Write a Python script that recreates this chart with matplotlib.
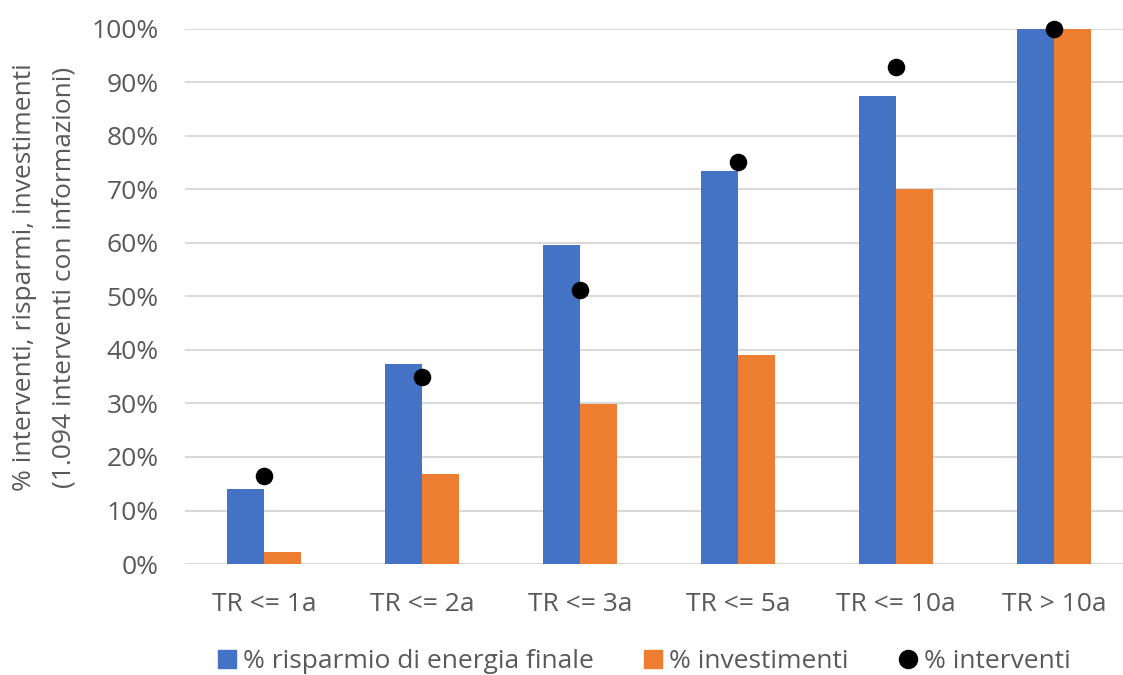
import matplotlib
matplotlib.use('Agg')
import matplotlib.pyplot as plt
from matplotlib.lines import Line2D
from matplotlib.ticker import PercentFormatter
import numpy as np

categories = ['TR <= 1a', 'TR <= 2a', 'TR <= 3a', 'TR <= 5a', 'TR <= 10a', 'TR > 10a']
risparmio = [14.0, 37.4, 59.6, 73.5, 87.5, 100.0]
investimenti = [2.2, 16.8, 29.9, 39.1, 70.1, 100.0]
interventi = [16.4, 35.0, 51.2, 75.1, 92.9, 100.0]

BLUE = '#4472C4'
ORANGE = '#ED7D31'
GREY = '#595959'

plt.rcParams['font.family'] = ['Open Sans', 'DejaVu Sans']

fig = plt.figure(figsize=(11.23, 6.75), dpi=100)
ax = fig.add_axes([185 / 1123, 111 / 675, 948 / 1123, 535 / 675])

x = np.arange(len(categories))
w = 0.237
ax.bar(x - w / 2, risparmio, w, color=BLUE, zorder=2)
ax.bar(x + w / 2, investimenti, w, color=ORANGE, zorder=2)
ax.scatter(x, interventi, s=135, color='black', zorder=3, clip_on=False)

ax.set_xlim(-0.5, len(categories) - 0.5)
ax.set_ylim(0, 100)
ax.set_yticks(np.arange(0, 101, 10))
ax.yaxis.set_major_formatter(PercentFormatter(decimals=0))
ax.set_xticks(x)
ax.set_xticklabels(categories)
ax.grid(axis='y', color='#D9D9D9', linewidth=1.5, zorder=0)
for s in ax.spines.values():
    s.set_visible(False)
ax.tick_params(length=0, colors=GREY, labelsize=19)
ax.tick_params(axis='y', pad=19)
ax.tick_params(axis='x', pad=20)

fig.text(25 / 1123, 398 / 675, '% interventi, risparmi, investimenti',
         rotation=90, ha='center', va='center', color=GREY, fontsize=19)
fig.text(64 / 1123, 398 / 675, '(1.094 interventi con informazioni)',
         rotation=90, ha='center', va='center', color=GREY, fontsize=19)

handles = [
    Line2D([], [], marker='s', linestyle='none', color=BLUE, markersize=13),
    Line2D([], [], marker='s', linestyle='none', color=ORANGE, markersize=13),
    Line2D([], [], marker='o', linestyle='none', color='black', markersize=13),
]
labels = ['% risparmio di energia finale', '% investimenti', '% interventi']
leg = fig.legend(handles, labels, loc='center', bbox_to_anchor=(0.573, 13 / 675),
                 ncol=3, frameon=False, fontsize=19, handletextpad=0.2,
                 columnspacing=1.85, handlelength=0.8)
for t in leg.get_texts():
    t.set_color(GREY)

fig.savefig('out.png', dpi=100)
